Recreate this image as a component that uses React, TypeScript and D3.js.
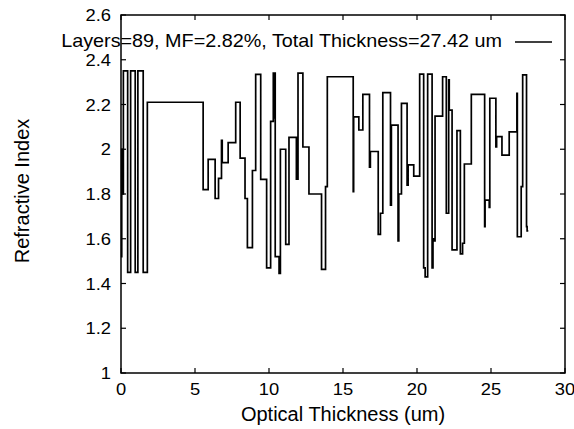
import React from "react";
import * as d3 from "d3";

const layerEnd = [
  0.05, 0.09, 0.16, 0.45, 0.65, 0.96, 1.14, 1.5, 1.78, 5.55, 5.89, 6.36, 6.59, 6.79, 6.84, 7.24,
  7.75, 8.05, 8.38, 8.54, 8.88, 9.1, 9.44, 9.84, 10.11, 10.29, 10.32, 10.36, 10.42, 10.68, 10.77,
  11.13, 11.35, 11.85, 11.96, 12.29, 12.7, 13.55, 13.82, 13.94, 15.69, 15.72, 16.07, 16.34, 16.79,
  16.85, 17.38, 17.53, 17.69, 18.21, 18.27, 18.72, 18.77, 18.95, 19.33, 19.4, 19.78, 20.18, 20.45,
  20.55, 20.72, 21.02, 21.08, 21.15, 21.22, 21.73, 21.98, 22.14, 22.18, 22.37, 22.7, 22.93, 23.08,
  23.2, 23.67, 24.57, 24.6, 24.88, 24.92, 25.33, 25.38, 25.74, 26.23, 26.75, 26.78, 27.04, 27.14,
  27.4, 27.44, 27.52,
];

const layerIndex = [
  1.52, 2.0, 1.8, 2.35, 1.45, 2.35, 1.45, 2.35, 1.45, 2.21, 1.82, 1.955, 1.78, 1.87, 2.04, 1.94,
  2.03, 2.21, 1.96, 1.78, 1.56, 1.905, 2.335, 1.865, 1.47, 2.125, 2.34, 2.14, 2.34, 1.52, 1.445,
  2.0, 1.575, 2.053, 1.866, 2.34, 2.01, 1.8, 1.463, 1.833, 2.324, 1.81, 2.145, 2.086, 2.245,
  1.92, 1.99, 1.62, 1.714, 2.253, 1.75, 2.108, 1.59, 1.8, 2.205, 1.84, 1.93, 1.88, 2.336,
  1.47, 1.43, 2.336, 1.47, 1.6, 1.59, 2.148, 2.324, 1.714, 2.31, 2.175, 1.55, 2.083, 1.532,
  1.58, 1.934, 2.245, 1.654, 1.773, 1.74, 2.228, 2.01, 2.056, 1.974, 2.078, 2.25, 1.609, 1.833,
  2.332, 1.654, 1.635,
];

const xTicks = [0, 5, 10, 15, 20, 25, 30];
const yTicks = [1, 1.2, 1.4, 1.6, 1.8, 2, 2.2, 2.4, 2.6];
const legendLabel = "Layers=89, MF=2.82%, Total Thickness=27.42 um";
const xTitle = "Optical Thickness (um)";
const yTitle = "Refractive Index";

const W = 574;
const H = 429;
const M = { left: 121, right: 9, top: 15, bottom: 56 };
const FONT = "'Liberation Sans', Arial, Helvetica, sans-serif";

export default function App() {
  const x = d3.scaleLinear().domain([0, 30]).range([M.left, W - M.right]);
  const y = d3.scaleLinear().domain([1, 2.6]).range([H - M.bottom, M.top]);

  const pts: [number, number][] = [];
  let start = 0;
  layerEnd.forEach((e, i) => {
    pts.push([start, layerIndex[i]]);
    start = e;
  });
  pts.push([start, layerIndex[layerIndex.length - 1]]);

  const line = d3
    .line<[number, number]>()
    .x((d) => x(d[0]))
    .y((d) => y(d[1]))
    .curve(d3.curveStepAfter);

  const x0 = x(0), x1 = x(30), y0 = y(1), y1 = y(2.6);
  const tl = 5;
  const fmt = (v: number) => (Math.abs(v - Math.round(v)) < 1e-9 ? String(Math.round(v)) : v.toFixed(1));

  const txt = (tx: number, ty: number, s: string, anchor: string, size = 17, sx = 1.08) => (
    <text
      transform={`translate(${tx},${ty}) scale(${sx},1)`}
      textAnchor={anchor}
      fontSize={size}
      fontFamily={FONT}
      fill="#000"
    >
      {s}
    </text>
  );

  return (
    <svg
      width={W}
      height={H}
      style={{ position: "absolute", left: 0, top: 0, background: "#fff" }}
    >
      <rect x={0} y={0} width={W} height={H} fill="#fff" />
      {xTicks.map((t) => (
        <g key={"xt" + t}>
          <line x1={x(t)} x2={x(t)} y1={y0} y2={y0 - tl} stroke="#000" strokeWidth={1.2} />
          <line x1={x(t)} x2={x(t)} y1={y1} y2={y1 + tl} stroke="#000" strokeWidth={1.2} />
          {txt(x(t), y0 + 22, String(t), "middle")}
        </g>
      ))}
      {yTicks.map((t) => (
        <g key={"yt" + t}>
          <line x1={x0} x2={x0 + tl} y1={y(t)} y2={y(t)} stroke="#000" strokeWidth={1.2} />
          <line x1={x1} x2={x1 - tl} y1={y(t)} y2={y(t)} stroke="#000" strokeWidth={1.2} />
          {txt(x0 - 10, y(t) + 6, fmt(t), "end")}
        </g>
      ))}
      <rect x={x0} y={y1} width={x1 - x0} height={y0 - y1} fill="none" stroke="#000" strokeWidth={1.5} />
      <path d={line(pts) || ""} fill="none" stroke="#000" strokeWidth={1.7} />
      {txt(502, 47, legendLabel, "end", 18, 1.1)}
      <line x1={515} x2={552} y1={42} y2={42} stroke="#000" strokeWidth={1.5} />
      {txt((x0 + x1) / 2, 421, xTitle, "middle", 20, 1)}
      <text
        transform={`translate(29,${(y0 + y1) / 2 - 3}) rotate(-90)`}
        textAnchor="middle"
        fontSize={20}
        fontFamily={FONT}
        fill="#000"
      >
        {yTitle}
      </text>
    </svg>
  );
}
